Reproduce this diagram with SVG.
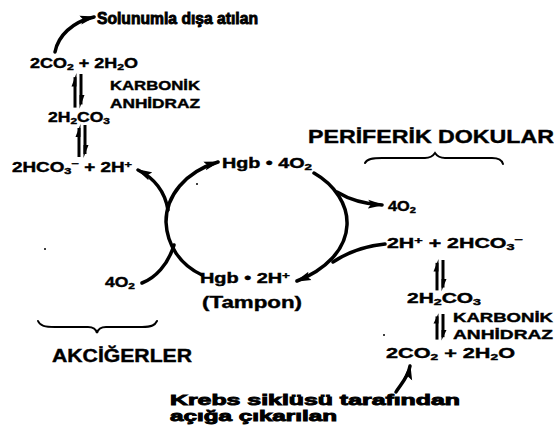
<svg xmlns="http://www.w3.org/2000/svg" xmlns:xlink="http://www.w3.org/1999/xlink" width="554" height="432" viewBox="0 0 554 432">
<style>
text{font-family:"Liberation Sans",Arial,sans-serif;font-weight:bold;fill:#000;stroke:#000;stroke-width:0.4px}
.f14{font-size:14px}
.f12{font-size:12.5px}
.heavy{stroke-width:0.9px}
.c{fill:none;stroke:#000;stroke-width:3.5;stroke-linecap:round}
.b{fill:none;stroke:#000;stroke-width:2;stroke-linecap:round}
.sub{font-size:9.5px}
</style>
<defs>
<marker id="ah" markerUnits="userSpaceOnUse" markerWidth="16" markerHeight="10" viewBox="0 0 16 10" refX="14" refY="5" orient="auto">
<path d="M0,0.5 L16,5 L0,9.5 L3,5 Z" fill="#000"/>
</marker>
<g id="eq">
<path d="M0,32 V3" stroke="#000" stroke-width="3" fill="none"/>
<polygon points="1.5,-1 -3.5,12 1.5,12" fill="#000"/>
<path d="M6,0 V29" stroke="#000" stroke-width="3" fill="none"/>
<polygon points="4.5,33 9.5,20 4.5,20" fill="#000"/>
</g>
</defs>

<g id="connectors">
<path class="c" d="M55,52 C58,36 72,22 94,17" marker-end="url(#ah)"/>
<path class="c" d="M202,275 C180,265 167,245 166,222 C166,196 185,172 218,162" marker-end="url(#ah)"/>
<path class="c" d="M314,173 C335,185 348,205 347,225 C346,250 325,270 297,281" marker-end="url(#ah)"/>
<path class="c" d="M337,192 C350,200 365,204 382,205" marker-end="url(#ah)"/>
<path class="c" d="M385,244 C365,246 348,252 333,262"/>
<path class="c" d="M168,210 C165,192 156,179 138,170" marker-end="url(#ah)"/>
<path class="c" d="M142,283 C155,278 168,265 174,245"/>
<path class="c" d="M396,392 C400,385 408,378 410,366" marker-end="url(#ah)"/>
</g>

<g id="equilibria">
<use xlink:href="#eq" transform="translate(75,74) scale(1,1.05)"/>
<use xlink:href="#eq" transform="translate(79,125) scale(1,1)"/>
<use xlink:href="#eq" transform="translate(437,260) scale(1,0.95)"/>
<use xlink:href="#eq" transform="translate(437,314) scale(1,0.8)"/>
</g>

<g id="braces">
<path class="b" d="M38,321 C40,326 45,327 55,327 L88,327 C93,327 96,329 97,333 C98,329 101,327 106,327 L142,327 C152,327 155,325 157,321"/>
<path class="b" d="M365,163 C367,159 372,158 382,158 L425,158 C430,158 433,156 435,153 C437,156 440,158 445,158 L492,158 C499,158 502,160 503,164"/>
</g>

<g id="n-solunum"><text x="97" y="24" font-size="16" class="heavy" textLength="161" lengthAdjust="spacingAndGlyphs">Solunumla dışa atılan</text></g>
<g id="n-left-co2"><text x="30" y="68" class="f14" textLength="108" lengthAdjust="spacingAndGlyphs">2CO<tspan class="sub" dy="2">2</tspan><tspan dy="-2"> + 2H</tspan><tspan class="sub" dy="2">2</tspan><tspan dy="-2">O</tspan></text></g>
<g id="n-left-enzyme"><text x="110" y="90" class="f12" textLength="90" lengthAdjust="spacingAndGlyphs">KARBONİK</text><text x="110" y="108" class="f12" textLength="90" lengthAdjust="spacingAndGlyphs">ANHİDRAZ</text></g>
<g id="n-left-h2co3"><text x="48" y="122" class="f14" textLength="62" lengthAdjust="spacingAndGlyphs">2H<tspan class="sub" dy="2">2</tspan><tspan dy="-2">CO</tspan><tspan class="sub" dy="2">3</tspan></text></g>
<g id="n-left-hco3"><text x="12" y="172" class="f14" textLength="120" lengthAdjust="spacingAndGlyphs">2HCO<tspan class="sub" dy="2">3</tspan><tspan class="sub" dy="-7">−</tspan><tspan dy="5">  + 2H</tspan><tspan class="sub" dy="-4">+</tspan></text></g>
<g id="n-hgb4o2"><text x="222" y="168" class="f14" textLength="90" lengthAdjust="spacingAndGlyphs">Hgb • 4O<tspan class="sub" dy="2">2</tspan></text></g>
<g id="n-right-o2"><text x="388" y="211" class="f14" textLength="28" lengthAdjust="spacingAndGlyphs">4O<tspan class="sub" dy="2">2</tspan></text></g>
<g id="n-right-hco3"><text x="387" y="248" class="f14" textLength="136" lengthAdjust="spacingAndGlyphs">2H<tspan class="sub" dy="-4">+</tspan><tspan dy="4"> + 2HCO</tspan><tspan class="sub" dy="2">3</tspan><tspan class="sub" dy="-7">−</tspan></text></g>
<g id="n-right-h2co3"><text x="407" y="303" class="f14" textLength="74" lengthAdjust="spacingAndGlyphs">2H<tspan class="sub" dy="2">2</tspan><tspan dy="-2">CO</tspan><tspan class="sub" dy="2">3</tspan></text></g>
<g id="n-right-enzyme"><text x="453" y="322" font-size="13" textLength="100" lengthAdjust="spacingAndGlyphs">KARBONİK</text><text x="453" y="339" font-size="13" textLength="100" lengthAdjust="spacingAndGlyphs">ANHİDRAZ</text></g>
<g id="n-right-co2"><text x="386" y="358" font-size="15" textLength="129" lengthAdjust="spacingAndGlyphs">2CO<tspan class="sub" dy="2">2</tspan><tspan dy="-2"> + 2H</tspan><tspan class="sub" dy="2">2</tspan><tspan dy="-2">O</tspan></text></g>
<g id="n-left-o2"><text x="105" y="287" class="f14" textLength="30" lengthAdjust="spacingAndGlyphs">4O<tspan class="sub" dy="2">2</tspan></text></g>
<g id="n-hgb2h"><text x="200" y="283" class="f14" textLength="90" lengthAdjust="spacingAndGlyphs">Hgb • 2H<tspan class="sub" dy="-4">+</tspan></text></g>
<g id="n-tampon"><text x="202" y="308" font-size="16" textLength="100" lengthAdjust="spacingAndGlyphs">(Tampon)</text></g>
<g id="n-akciger"><text x="52" y="362" font-size="17.5" textLength="140" lengthAdjust="spacingAndGlyphs">AKCİĞERLER</text></g>
<g id="n-periferik"><text x="308" y="143" font-size="19" textLength="246" lengthAdjust="spacingAndGlyphs">PERİFERİK DOKULAR</text></g>
<g id="n-krebs"><text x="170" y="405" font-size="15" class="heavy" textLength="290" lengthAdjust="spacingAndGlyphs">Krebs siklüsü tarafından</text><text x="170" y="421" font-size="15" class="heavy" textLength="167" lengthAdjust="spacingAndGlyphs">açığa çıkarılan</text></g>

<g id="specks">
<circle cx="45" cy="249" r="1"/>
<circle cx="197" cy="184" r="1"/>
<circle cx="384" cy="335" r="1"/>
</g>
</svg>
